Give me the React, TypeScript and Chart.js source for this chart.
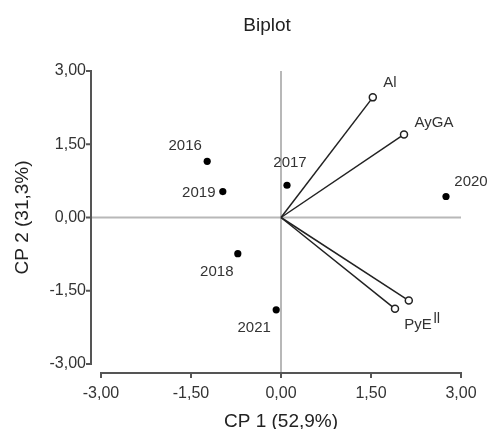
import { useEffect, useRef } from "react";
import { Chart, registerables } from "chart.js";

Chart.register(...registerables);

const chartTitle = "Biplot";
const xTitle = "CP 1 (52,9%)";
const yTitle = "CP 2 (31,3%)";

const yearLabels = ["2016", "2017", "2018", "2019", "2020", "2021"];
const yearCP1 = [-1.23, 0.1, -0.72, -0.97, 2.75, -0.08];
const yearCP2 = [1.15, 0.66, -0.74, 0.53, 0.43, -1.89];

const varLabels = ["Al", "AyGA", "PyE", "ll"];
const varCP1 = [1.53, 2.05, 1.9, 2.13];
const varCP2 = [2.46, 1.7, -1.87, -1.7];

const tickValues = [-3, -1.5, 0, 1.5, 3];

const yearLabelOffsets = [
  [-22, -15],
  [3, -22],
  [-21, 18],
  [-24, 1],
  [25, -15],
  [-22, 18],
];
const varLabelOffsets = [
  [17, -15],
  [30, -12],
  [23, 16],
  [28, 18],
];

const FONT = "'Liberation Sans', Arial, sans-serif";
const fmt = (v: number) => v.toFixed(2).replace(".", ",");

const biplotPlugin = {
  id: "biplotAxes",
  beforeDatasetsDraw(chart: any) {
    const { ctx } = chart;
    const x = chart.scales.x;
    const y = chart.scales.y;
    const x0 = x.getPixelForValue(0);
    const y0 = y.getPixelForValue(0);
    const yTop = y.getPixelForValue(3);
    const yBot = y.getPixelForValue(-3);
    const xl = x.getPixelForValue(-3);
    const xr = x.getPixelForValue(3);
    const axisX = xl - 10;
    const axisY = yBot + 9;
    const line = (a: number, b: number, c: number, d: number) => {
      ctx.beginPath();
      ctx.moveTo(a, b);
      ctx.lineTo(c, d);
      ctx.stroke();
    };
    ctx.save();
    ctx.lineCap = "butt";
    ctx.strokeStyle = "#b8b8b8";
    ctx.lineWidth = 2;
    line(x0, yTop, x0, axisY);
    line(axisX, y0, xr, y0);
    ctx.strokeStyle = "#555555";
    ctx.lineWidth = 2;
    line(axisX, yTop - 1, axisX, yBot + 1);
    tickValues.forEach((v) => {
      const py = y.getPixelForValue(v);
      line(axisX - 5, py, axisX, py);
    });
    line(xl - 1, axisY, xr + 1, axisY);
    tickValues.forEach((v) => {
      const px = x.getPixelForValue(v);
      line(px, axisY, px, axisY + 5);
    });
    ctx.restore();
  },
  afterDatasetsDraw(chart: any) {
    const { ctx } = chart;
    const x = chart.scales.x;
    const y = chart.scales.y;
    ctx.save();
    ctx.fillStyle = "#333333";
    ctx.font = `15px ${FONT}`;
    ctx.textAlign = "center";
    ctx.textBaseline = "middle";
    yearLabels.forEach((t, i) => {
      const px = x.getPixelForValue(yearCP1[i]) + yearLabelOffsets[i][0];
      const py = y.getPixelForValue(yearCP2[i]) + yearLabelOffsets[i][1];
      ctx.fillText(t, px, py);
    });
    varLabels.forEach((t, i) => {
      const px = x.getPixelForValue(varCP1[i]) + varLabelOffsets[i][0];
      const py = y.getPixelForValue(varCP2[i]) + varLabelOffsets[i][1];
      ctx.fillText(t, px, py);
    });
    // chart title, centred slightly left of the zero line as in the source
    ctx.fillStyle = "#222222";
    ctx.font = `19px ${FONT}`;
    ctx.fillText(chartTitle, x.getPixelForValue(0) - 14, 26);
    ctx.restore();
  },
};

export default function App() {
  const ref = useRef<HTMLCanvasElement | null>(null);
  useEffect(() => {
    if (!ref.current) return;
    const vectorSets = varLabels.map((name, i) => ({
      type: "line" as const,
      label: name,
      data: [
        { x: 0, y: 0 },
        { x: varCP1[i], y: varCP2[i] },
      ],
      showLine: true,
      borderColor: "#222222",
      borderWidth: 1.5,
      pointRadius: [0, 3.5],
      pointBackgroundColor: "#ffffff",
      pointBorderColor: "#222222",
      pointBorderWidth: 1.5,
      clip: false as any,
    }));
    const chart = new Chart(ref.current, {
      type: "scatter",
      data: {
        datasets: [
          {
            label: "Años",
            data: yearCP1.map((v, i) => ({ x: v, y: yearCP2[i] })),
            pointRadius: 3.6,
            backgroundColor: "#000000",
            borderWidth: 0,
            clip: false as any,
          },
          ...vectorSets,
        ] as any,
      },
      options: {
        animation: false,
        responsive: false,
        maintainAspectRatio: false,
        layout: { padding: { left: 0, right: 0, top: 71, bottom: 0 } },
        plugins: {
          legend: { display: false },
          tooltip: { enabled: false },
          title: { display: false },
        },
        scales: {
          x: {
            type: "linear",
            min: -3,
            max: 3,
            grid: { display: false, drawTicks: false },
            border: { display: false },
            afterBuildTicks: (s: any) => {
              s.ticks = tickValues.map((v) => ({ value: v }));
            },
            afterFit: (s: any) => {
              s.height = 65;
              s.paddingLeft = 0;
              s.paddingRight = 31;
            },
            ticks: {
              color: "#333333",
              font: { family: FONT, size: 16 },
              padding: 20,
              maxRotation: 0,
              callback: (v: any) => fmt(Number(v)),
            },
            title: {
              display: true,
              text: xTitle,
              color: "#222222",
              font: { family: FONT, size: 19, lineHeight: 1 },
              padding: { top: 0, bottom: -2 },
            },
          },
          y: {
            type: "linear",
            min: -3,
            max: 3,
            grid: { display: false, drawTicks: false },
            border: { display: false },
            afterBuildTicks: (s: any) => {
              s.ticks = tickValues.map((v) => ({ value: v }));
            },
            afterFit: (s: any) => {
              s.width = 101;
              s.paddingTop = 0;
              s.paddingBottom = 0;
            },
            ticks: {
              color: "#333333",
              font: { family: FONT, size: 16 },
              padding: 15,
              callback: (v: any) => fmt(Number(v)),
            },
            title: {
              display: true,
              text: yTitle,
              color: "#222222",
              font: { family: FONT, size: 19, lineHeight: 1 },
              padding: { top: 13, bottom: 0 },
            },
          },
        },
      },
      plugins: [biplotPlugin],
    });
    return () => chart.destroy();
  }, []);
  return (
    <div style={{ position: "absolute", left: 0, top: 0, width: 492, height: 429, background: "#fff" }}>
      <canvas ref={ref} width={492} height={429} style={{ width: 492, height: 429 }} />
    </div>
  );
}
